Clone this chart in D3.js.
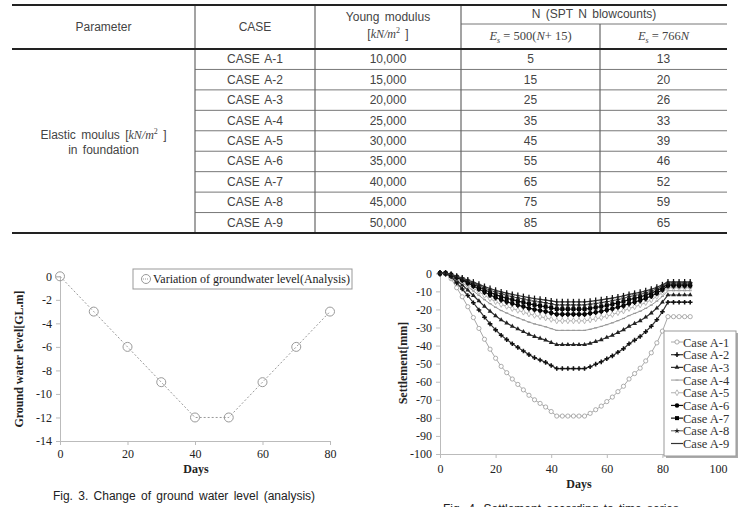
<!DOCTYPE html>
<html>
<head>
<meta charset="utf-8">
<script src="https://cdn.jsdelivr.net/npm/d3@7"></script>
<style>
body{margin:0;background:#fff;}
svg{display:block;}
.tb{font-family:"Liberation Sans",Arial,sans-serif;font-size:12px;fill:#444;word-spacing:2px;}
.ser{font-family:"Liberation Serif","Times New Roman",serif;fill:#222;}
.axis text{font-family:"Liberation Serif","Times New Roman",serif;font-size:12px;fill:#222;}
.axis path,.axis line{stroke:#bbb;}
</style>
</head>
<body>
<script>
//table data
var cases = ["CASE A-1","CASE A-2","CASE A-3","CASE A-4","CASE A-5","CASE A-6","CASE A-7","CASE A-8","CASE A-9"];
var youngs = ["10,000","15,000","20,000","25,000","30,000","35,000","40,000","45,000","50,000"];
var nSchmertmann = [5,15,25,35,45,55,65,75,85];
var nBowles = [13,20,26,33,39,46,52,59,65];

//fig 3 data
var gwDays = [0,10,20,30,40,50,60,70,80];
var gwLevel = [0,-3,-6,-9,-12,-12,-9,-6,-3];
var gwTicksX = [0,20,40,60,80];
var gwTicksY = [0,-2,-4,-6,-8,-10,-12,-14];

//fig 4 data
var days = [0,2,4,6,8,10,12,14,16,18,20,22,24,26,28,30,32,34,36,38,40,42,44,46,48,50,52,54,56,58,60,62,64,66,68,70,72,74,76,78,80,82,84,86,88,90];
var caseA1 = [0,0,-3,-8,-13,-18.5,-24.5,-30.5,-36.5,-42,-47,-51.5,-55,-58.5,-61.5,-64.5,-67.5,-70,-72,-74,-76.5,-79,-79,-79,-79,-79,-79,-77.5,-75.5,-73.5,-71,-68.5,-65.5,-62.5,-58.5,-55.5,-52.5,-48.5,-44,-38.5,-32,-24,-24,-24,-24,-24];
var caseA2 = [0,0,-2,-5.3,-8.7,-12.3,-16.3,-20.3,-24.3,-28,-31.3,-34.3,-36.7,-39,-41,-43,-45,-46.7,-48,-49.3,-51,-52.7,-52.7,-52.7,-52.7,-52.7,-52.7,-51.7,-50.3,-49,-47.3,-45.7,-43.7,-41.7,-39,-37,-35,-32.3,-29.3,-25.7,-21.3,-16,-16,-16,-16,-16];
var caseA3 = [0,0,-1.5,-4,-6.5,-9.3,-12.3,-15.3,-18.3,-21,-23.5,-25.8,-27.5,-29.3,-30.8,-32.3,-33.8,-35,-36,-37,-38.3,-39.5,-39.5,-39.5,-39.5,-39.5,-39.5,-38.8,-37.8,-36.8,-35.5,-34.3,-32.8,-31.3,-29.3,-27.8,-26.3,-24.3,-22,-19.3,-16,-12,-12,-12,-12,-12];
var caseA4 = [0,0,-1.2,-3.2,-5.2,-7.4,-9.8,-12.2,-14.6,-16.8,-18.8,-20.6,-22,-23.4,-24.6,-25.8,-27,-28,-28.8,-29.6,-30.6,-31.6,-31.6,-31.6,-31.6,-31.6,-31.6,-31,-30.2,-29.4,-28.4,-27.4,-26.2,-25,-23.4,-22.2,-21,-19.4,-17.6,-15.4,-12.8,-9.6,-9.6,-9.6,-9.6,-9.6];
var caseA5 = [0,0,-1,-2.7,-4.3,-6.2,-8.2,-10.2,-12.2,-14,-15.7,-17.2,-18.3,-19.5,-20.5,-21.5,-22.5,-23.3,-24,-24.7,-25.5,-26.3,-26.3,-26.3,-26.3,-26.3,-26.3,-25.8,-25.2,-24.5,-23.7,-22.8,-21.8,-20.8,-19.5,-18.5,-17.5,-16.2,-14.7,-12.8,-10.7,-8,-8,-8,-8,-8];
var caseA6 = [0,0,-0.9,-2.3,-3.7,-5.3,-7,-8.7,-10.4,-12,-13.4,-14.7,-15.7,-16.7,-17.6,-18.4,-19.3,-20,-20.6,-21.1,-21.9,-22.6,-22.6,-22.6,-22.6,-22.6,-22.6,-22.1,-21.6,-21,-20.3,-19.6,-18.7,-17.9,-16.7,-15.9,-15,-13.9,-12.6,-11,-9.1,-6.9,-6.9,-6.9,-6.9,-6.9];
var caseA7 = [0,0,-0.8,-2,-3.3,-4.6,-6.1,-7.6,-9.1,-10.5,-11.8,-12.9,-13.8,-14.6,-15.4,-16.1,-16.9,-17.5,-18,-18.5,-19.1,-19.8,-19.8,-19.8,-19.8,-19.8,-19.8,-19.4,-18.9,-18.4,-17.8,-17.1,-16.4,-15.6,-14.6,-13.9,-13.1,-12.1,-11,-9.6,-8,-6,-6,-6,-6,-6];
var caseA8 = [0,0,-0.7,-1.8,-2.9,-4.1,-5.4,-6.8,-8.1,-9.3,-10.4,-11.4,-12.2,-13,-13.7,-14.3,-15,-15.6,-16,-16.4,-17,-17.6,-17.6,-17.6,-17.6,-17.6,-17.6,-17.2,-16.8,-16.3,-15.8,-15.2,-14.6,-13.9,-13,-12.3,-11.7,-10.8,-9.8,-8.6,-7.1,-5.3,-5.3,-5.3,-5.3,-5.3];
var caseA9 = [0,0,-0.6,-1.6,-2.6,-3.7,-4.9,-6.1,-7.3,-8.4,-9.4,-10.3,-11,-11.7,-12.3,-12.9,-13.5,-14,-14.4,-14.8,-15.3,-15.8,-15.8,-15.8,-15.8,-15.8,-15.8,-15.5,-15.1,-14.7,-14.2,-13.7,-13.1,-12.5,-11.7,-11.1,-10.5,-9.7,-8.8,-7.7,-6.4,-4.8,-4.8,-4.8,-4.8,-4.8];
var caseNames = ["Case A-1","Case A-2","Case A-3","Case A-4","Case A-5","Case A-6","Case A-7","Case A-8","Case A-9"];
var stTicksX = [0,20,40,60,80,100];
var stTicksY = [0,-10,-20,-30,-40,-50,-60,-70,-80,-90,-100];

var width = 739, height = 507;

var svg = d3.select("body").append("svg")
    .attr("width", width)
    .attr("height", height);

//plain hyphen minus, like the original
var plain = function(d){ return String(d); };

// ---------- table ----------
var colX = [12,195,315,461,600,727];
var tTop = 5, tSub = 24, tHead = 49, tBot = 233;
var rowY = d3.scaleBand().domain(d3.range(cases.length)).range([tHead, tBot]);

var tbl = svg.append("g");

//thin row lines (not across parameter column)
tbl.selectAll(".rowline")
    .data(d3.range(1, cases.length))
    .enter().append("line")
    .attr("x1", colX[1]).attr("x2", colX[5])
    .attr("y1", function(d){ return rowY(d); })
    .attr("y2", function(d){ return rowY(d); })
    .attr("stroke", "#777").attr("stroke-width", 1);

tbl.append("line").attr("x1", colX[3]).attr("x2", colX[5])
    .attr("y1", tSub).attr("y2", tSub)
    .attr("stroke", "#777");

//column lines
[1,2,3].forEach(function(i){
    tbl.append("line").attr("x1", colX[i]).attr("x2", colX[i])
        .attr("y1", tTop).attr("y2", tBot)
        .attr("stroke", "#666").attr("stroke-width", 1.2);
});
tbl.append("line").attr("x1", colX[4]).attr("x2", colX[4])
    .attr("y1", tSub).attr("y2", tBot)
    .attr("stroke", "#666").attr("stroke-width", 1.2);

//thick rules
[tTop, tHead, tBot].forEach(function(y){
    tbl.append("line").attr("x1", colX[0]).attr("x2", colX[5])
        .attr("y1", y).attr("y2", y)
        .attr("stroke", "#222").attr("stroke-width", 2);
});

function cx(i){ return (colX[i] + colX[i+1]) / 2; }

tbl.append("text").attr("class", "tb").attr("x", cx(0)).attr("y", 31)
    .attr("text-anchor", "middle").text("Parameter");
tbl.append("text").attr("class", "tb").attr("x", cx(1)).attr("y", 31)
    .attr("text-anchor", "middle").text("CASE");
tbl.append("text").attr("class", "tb").attr("x", cx(2)).attr("y", 21)
    .attr("text-anchor", "middle").text("Young modulus");

//[kN/m2] units
function units(sel){
    sel.append("tspan").text("[");
    sel.append("tspan").attr("font-family", "Liberation Serif,serif").attr("font-style", "italic").text("kN/m");
    sel.append("tspan").attr("font-family", "Liberation Serif,serif").attr("font-size", "8px").attr("dy", -5).text("2");
    sel.append("tspan").attr("dy", 5).text(" ]");
}
units(tbl.append("text").attr("class", "tb").attr("x", cx(2)).attr("y", 38).attr("text-anchor", "middle"));

tbl.append("text").attr("class", "tb").attr("x", (colX[3] + colX[5]) / 2).attr("y", 18)
    .attr("text-anchor", "middle").text("N (SPT N blowcounts)");

function formula(sel, rest){
    sel.append("tspan").attr("font-style", "italic").text("E");
    sel.append("tspan").attr("font-style", "italic").attr("font-size", "8px").attr("dy", 3).text("s");
    sel.append("tspan").attr("dy", -3).text(" = " + rest[0]);
    sel.append("tspan").attr("font-style", "italic").text("N");
    if (rest[1]) sel.append("tspan").text(rest[1]);
}
formula(tbl.append("text").attr("class", "ser").style("font-size", "12.5px").style("fill", "#444")
    .attr("x", cx(3)).attr("y", 40).attr("text-anchor", "middle"), ["500(", "+ 15)"]);
formula(tbl.append("text").attr("class", "ser").style("font-size", "12.5px").style("fill", "#444")
    .attr("x", cx(4)).attr("y", 40).attr("text-anchor", "middle"), ["766", ""]);

var param = tbl.append("text").attr("class", "tb").attr("x", cx(0)).attr("y", 139).attr("text-anchor", "middle");
param.append("tspan").text("Elastic moulus ");
units(param);
tbl.append("text").attr("class", "tb").attr("x", cx(0)).attr("y", 154)
    .attr("text-anchor", "middle").text("in foundation");

var cols = [cases, youngs, nSchmertmann, nBowles];
cols.forEach(function(col, c){
    tbl.selectAll(".c" + c)
        .data(col)
        .enter().append("text")
        .attr("class", "tb")
        .attr("x", cx(c + 1))
        .attr("y", function(d, i){ return rowY(i) + rowY.bandwidth() / 2 + 4; })
        .attr("text-anchor", "middle")
        .text(function(d){ return d; });
});

// ---------- Fig. 3 ----------
var x3 = d3.scaleLinear().domain([0, 80]).range([60, 330]);
var y3 = d3.scaleLinear().domain([-14, 0]).range([441, 276.3]);

var g3 = svg.append("g");
g3.append("g").attr("class", "axis")
    .attr("transform", "translate(0," + y3(-14) + ")")
    .call(d3.axisBottom(x3).tickValues(gwTicksX).tickSize(4).tickPadding(4).tickFormat(plain));
g3.append("g").attr("class", "axis")
    .attr("transform", "translate(" + x3(0) + ",0)")
    .call(d3.axisLeft(y3).tickValues(gwTicksY).tickSize(4).tickPadding(4).tickFormat(plain));

var gwLine = d3.line()
    .x(function(d, i){ return x3(gwDays[i]); })
    .y(function(d){ return y3(d); });
g3.append("path").datum(gwLevel)
    .attr("d", gwLine)
    .attr("fill", "none").attr("stroke", "#999")
    .attr("stroke-width", 1).attr("stroke-dasharray", "2,2");
g3.selectAll(".gw")
    .data(gwLevel)
    .enter().append("circle")
    .attr("cx", function(d, i){ return x3(gwDays[i]); })
    .attr("cy", function(d){ return y3(d); })
    .attr("r", 4.5)
    .attr("fill", "none").attr("stroke", "#999").attr("stroke-width", 1);

g3.append("rect").attr("x", 133).attr("y", 269).attr("width", 219).attr("height", 20)
    .attr("fill", "#fff").attr("stroke", "#999");
g3.append("circle").attr("cx", 146).attr("cy", 279).attr("r", 4.5)
    .attr("fill", "none").attr("stroke", "#999");
g3.append("line").attr("x1", 143).attr("x2", 149).attr("y1", 279).attr("y2", 279)
    .attr("stroke", "#999").attr("stroke-dasharray", "1,1");
g3.append("text").attr("class", "ser").attr("x", 153).attr("y", 283)
    .style("font-size", "12px").text("Variation of groundwater level(Analysis)");

g3.append("text").attr("class", "ser").attr("x", 196).attr("y", 473)
    .attr("text-anchor", "middle").style("font-size", "12px").style("font-weight", "bold").text("Days");
g3.append("text").attr("class", "ser")
    .attr("transform", "translate(23,359) rotate(-90)")
    .attr("text-anchor", "middle").style("font-size", "12px").style("font-weight", "bold")
    .text("Ground water level[GL.m]");
g3.append("text").attr("class", "tb").attr("x", 184).attr("y", 500)
    .attr("text-anchor", "middle").style("font-size", "12px").style("fill", "#222")
    .text("Fig. 3. Change of ground water level (analysis)");

// ---------- Fig. 4 ----------
var x4 = d3.scaleLinear().domain([0, 100]).range([440, 718]);
var y4 = d3.scaleLinear().domain([-100, 0]).range([454, 273.3]);

var g4 = svg.append("g");
g4.append("g").attr("class", "axis")
    .attr("transform", "translate(0," + y4(-100) + ")")
    .call(d3.axisBottom(x4).tickValues(stTicksX).tickSize(4).tickPadding(6).tickFormat(plain));
g4.append("g").attr("class", "axis")
    .attr("transform", "translate(" + x4(0) + ",0)")
    .call(d3.axisLeft(y4).tickValues(stTicksY).tickSize(4).tickPadding(4).tickFormat(plain));

var series = [caseA1, caseA2, caseA3, caseA4, caseA5, caseA6, caseA7, caseA8, caseA9];
var styles = [
    {stroke: "#a8a8a8", w: 1, sym: d3.symbolCircle, size: 14, fill: "#fff", mstroke: "#999", bar: false},
    {stroke: "#333", w: 1.2, sym: d3.symbolCross, size: 12, fill: "#111", mstroke: "none", bar: false},
    {stroke: "#333", w: 1.2, sym: d3.symbolTriangle, size: 10, fill: "#222", mstroke: "none", bar: false},
    {stroke: "#999", w: 1, sym: null, size: 0, fill: "#999", mstroke: "none", bar: false},
    {stroke: "#b0b0b0", w: 1, sym: d3.symbolDiamond, size: 10, fill: "#fff", mstroke: "#aaa", bar: false},
    {stroke: "#111", w: 1.2, sym: d3.symbolCircle, size: 16, fill: "#000", mstroke: "none", bar: true},
    {stroke: "#111", w: 1.2, sym: d3.symbolSquare, size: 16, fill: "#000", mstroke: "none", bar: true},
    {stroke: "#555", w: 1, sym: d3.symbolStar, size: 10, fill: "#222", mstroke: "none", bar: false},
    {stroke: "#333", w: 1.2, sym: null, size: 0, fill: "#333", mstroke: "none", bar: true}
];

var stLine = d3.line()
    .x(function(d, i){ return x4(days[i]); })
    .y(function(d){ return y4(d); });

var sg = g4.selectAll(".case")
    .data(series)
    .enter().append("g")
    .attr("class", "case");

sg.append("path")
    .attr("d", stLine)
    .attr("fill", "none")
    .attr("stroke", function(d, i){ return styles[i].stroke; })
    .attr("stroke-width", function(d, i){ return styles[i].w; });

sg.each(function(s, k){
    var st = styles[k];
    var g = d3.select(this);
    g.selectAll(".m")
        .data(s)
        .enter().append("path")
        .attr("transform", function(d, i){ return "translate(" + x4(days[i]) + "," + y4(d) + ")"; })
        .attr("d", st.sym ? d3.symbol(st.sym, st.size)() : "M-1.5,0H1.5")
        .attr("fill", st.fill)
        .attr("stroke", st.sym ? st.mstroke : st.stroke)
        .attr("stroke-width", st.sym ? 0.8 : 1.2);
    if (st.bar) {
        //heavy vertical ticks on the upper cluster
        g.selectAll(".v")
            .data(s)
            .enter().append("line")
            .attr("x1", function(d, i){ return x4(days[i]); })
            .attr("x2", function(d, i){ return x4(days[i]); })
            .attr("y1", function(d){ return y4(d) - 3; })
            .attr("y2", function(d){ return y4(d) + 3; })
            .attr("stroke", "#111").attr("stroke-width", 1.3);
    }
});

//legend
var lg = g4.append("g");
lg.append("rect").attr("x", 666).attr("y", 333).attr("width", 72).attr("height", 125).attr("fill", "#aaa");
lg.append("rect").attr("x", 664).attr("y", 331).attr("width", 72).attr("height", 125)
    .attr("fill", "#fff").attr("stroke", "#999");
var ly = d3.scaleLinear().domain([0, 8]).range([342, 443.5]);
var li = lg.selectAll(".li")
    .data(caseNames)
    .enter().append("g")
    .attr("transform", function(d, i){ return "translate(0," + ly(i) + ")"; });
li.append("line").attr("x1", 671).attr("x2", 683).attr("y1", 0).attr("y2", 0)
    .attr("stroke", function(d, i){ return styles[i].stroke; })
    .attr("stroke-width", function(d, i){ return styles[i].w; });
li.append("path")
    .attr("transform", "translate(677,0)")
    .attr("d", function(d, i){ return styles[i].sym ? d3.symbol(styles[i].sym, styles[i].size)() : "M-1.5,0H1.5"; })
    .attr("fill", function(d, i){ return styles[i].fill; })
    .attr("stroke", function(d, i){ return styles[i].sym ? styles[i].mstroke : styles[i].stroke; })
    .attr("stroke-width", 0.8);
li.append("text").attr("class", "ser").attr("x", 683).attr("y", 4.5)
    .style("font-size", "12.5px").style("fill", "#333")
    .text(function(d){ return d; });

g4.append("text").attr("class", "ser").attr("x", 579).attr("y", 488)
    .attr("text-anchor", "middle").style("font-size", "12px").style("font-weight", "bold").text("Days");
g4.append("text").attr("class", "ser")
    .attr("transform", "translate(407,363) rotate(-90)")
    .attr("text-anchor", "middle").style("font-size", "12px").style("font-weight", "bold")
    .text("Settlement[mm]");
g4.append("text").attr("class", "tb").attr("x", 561).attr("y", 513)
    .attr("text-anchor", "middle").style("font-size", "12px").style("fill", "#222")
    .text("Fig. 4. Settlement according to time series");
</script>
</body>
</html>
